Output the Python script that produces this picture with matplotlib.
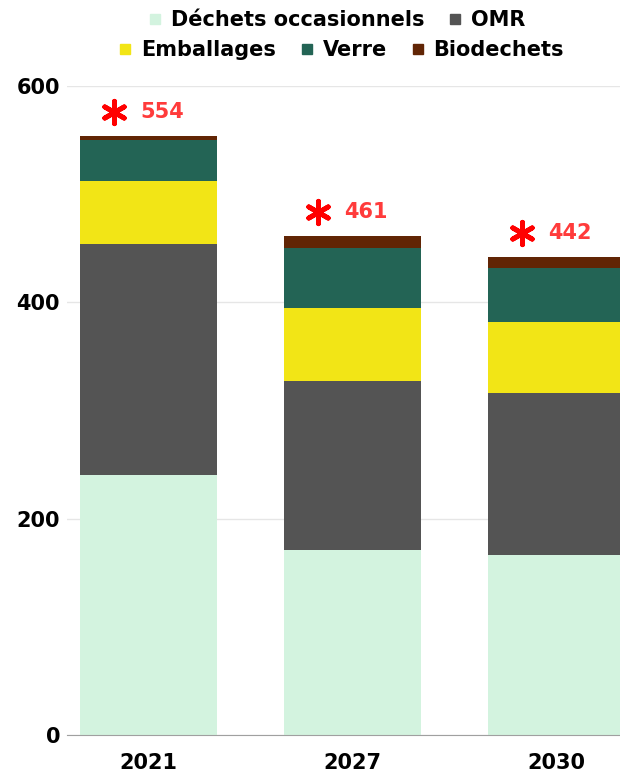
import numpy as np
import matplotlib.pyplot as plt
from matplotlib.lines import Line2D

years = ["2021", "2027", "2030"]
dechets_occ = [240, 171, 166]
omr = [214, 156, 150]
emballages = [58, 68, 66]
verre = [38, 55, 50]
biodechets = [4, 11, 10]
totals = [554, 461, 442]

series = [
    ("Déchets occasionnels", dechets_occ, "#d3f3df"),
    ("OMR", omr, "#545454"),
    ("Emballages", emballages, "#f2e516"),
    ("Verre", verre, "#236455"),
    ("Biodechets", biodechets, "#612505"),
]

plt.rcParams['font.family'] = ['DejaVu Sans']
plt.rcParams['font.weight'] = 'bold'

fig = plt.figure(figsize=(6.2, 7.73), dpi=100)
ax = fig.add_axes([0.108, 0.049, 0.892, 0.84])

x = np.arange(len(years))
bottom = np.zeros(len(years))
handles = []
for name, vals, color in series:
    ax.bar(x, vals, width=0.67, bottom=bottom, color=color, zorder=2)
    bottom += np.array(vals)
    handles.append(Line2D([], [], marker='s', linestyle='', color=color,
                          markersize=6.5, label=name))

# total labels with red asterisk
for xi, tot in zip(x, totals):
    ax.scatter(xi - 0.167, tot + 22, marker=(6, 2, 0), s=260, color='#ff0000',
               linewidths=3.5, zorder=3)
    ax.text(xi - 0.042, tot + 22, str(tot), color='#ff3b3b', fontsize=15,
            fontweight='bold', va='center', ha='left')

ax.set_xlim(-0.40, 2.311)
ax.set_ylim(0, 600)
ax.set_yticks([0, 200, 400, 600])
ax.set_xticks(x)
ax.set_xticklabels(years)
ax.tick_params(axis='both', length=0, labelsize=15)
ax.tick_params(axis='x', pad=13)
ax.tick_params(axis='y', pad=5)
for lbl in ax.get_xticklabels() + ax.get_yticklabels():
    lbl.set_fontweight('bold')
ax.grid(axis='y', color='#e6e6e6', linewidth=1, zorder=0)
for side in ['top', 'right', 'left']:
    ax.spines[side].set_visible(False)
ax.spines['bottom'].set_color('#a0a0a0')

fig.legend(handles=handles[:2], loc='center', bbox_to_anchor=(0.542, 0.974),
           ncol=2, frameon=False, fontsize=15, handletextpad=0.35,
           columnspacing=1.1, handlelength=0.8, borderpad=0)
fig.legend(handles=handles[2:], loc='center', bbox_to_anchor=(0.549, 0.935),
           ncol=3, frameon=False, fontsize=15, handletextpad=0.35,
           columnspacing=1.1, handlelength=0.8, borderpad=0)

fig.savefig("out.png", dpi=100)
